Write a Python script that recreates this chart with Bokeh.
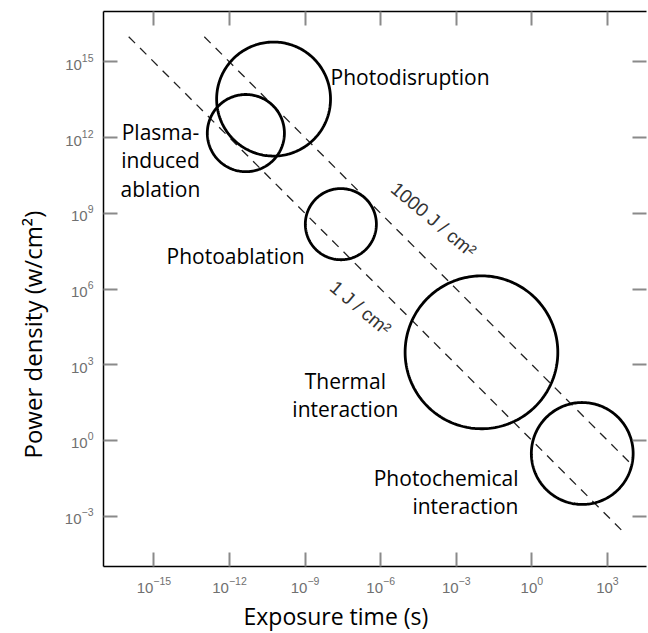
import numpy as np
from bokeh.plotting import figure
from bokeh.models import (LogAxis, FixedTicker, ColumnDataSource, CustomJSTickFormatter,
                          Title)
from bokeh.core.properties import value
from bokeh.embed import file_html
from bokeh.resources import INLINE

# ---- data (log10 units: exposure time in s, power density in W/cm^2) ----
regions = ["Photodisruption", "Plasma-induced ablation", "Photoablation",
           "Thermal interaction", "Photochemical interaction"]
center_log_time = [-10.25, -11.35, -7.58, -2.0, 2.0]
center_log_power = [13.53, 12.18, 8.57, 3.49, -0.52]
radius_decades = [2.26, 1.53, 1.41, 3.03, 2.02]

fluence = [1, 1000]                      # J/cm^2
fluence_labels = ["1 J / cm²", "1000 J / cm²"]
line_start_time = [1e-16, 1e-13]
line_end_time = [10 ** 3.7, 10 ** 3.85]

x_ticks = [1e-15, 1e-12, 1e-9, 1e-6, 1e-3, 1e0, 1e3]
y_ticks = [1e15, 1e12, 1e9, 1e6, 1e3, 1e0, 1e-3]

FONT = "Open Sans"

p = figure(width=648, height=633, x_axis_type="log", y_axis_type="log",
           x_range=(1e-17, 10 ** 4.55), y_range=(1e-5, 1e17),
           output_backend="svg", toolbar_location=None,
           min_border_left=103, min_border_right=2, min_border_top=11,
           min_border_bottom=67)
p.grid.visible = False
p.outline_line_color = None
p.background_fill_color = "white"
p.border_fill_color = "white"

def style_axis(ax, labels=True):
    ax.major_tick_in = 14
    ax.major_tick_out = 0
    ax.minor_tick_in = 0
    ax.minor_tick_out = 0
    ax.major_tick_line_color = "#8a8a8a"
    ax.major_tick_line_width = 2
    ax.axis_line_color = "black"
    ax.axis_line_width = 1.5
    if labels:
        ax.major_label_text_font = "Liberation Sans"
        ax.major_label_text_font_size = "15px"
        ax.major_label_text_color = "#707070"
        ax.major_label_standoff = 10
    else:
        ax.formatter = CustomJSTickFormatter(code="return ''")
        ax.major_label_standoff = 0

p.xaxis.ticker = FixedTicker(ticks=x_ticks, minor_ticks=[])
p.yaxis.ticker = FixedTicker(ticks=y_ticks, minor_ticks=[])
style_axis(p.xaxis[0])
style_axis(p.yaxis[0])

top = LogAxis(ticker=FixedTicker(ticks=x_ticks, minor_ticks=[]))
right = LogAxis(ticker=FixedTicker(ticks=y_ticks, minor_ticks=[]))
style_axis(top, labels=False)
style_axis(right, labels=False)
right.axis_line_color = None
p.add_layout(top, "above")
p.add_layout(right, "right")

# ---- axis titles ----
xt = Title(text="Exposure time (s)", align="left", offset=140, standoff=4,
           text_font=FONT, text_font_size="23px", text_font_style="normal",
           text_color="black")
p.add_layout(xt, "below")
yt = Title(text="Power density (w/cm²)", align="left", offset=108, standoff=25,
           text_font=FONT, text_font_size="24px", text_font_style="normal",
           text_color="black")
p.add_layout(yt, "left")

# ---- fluence lines ----
xs_l, ys_l = [], []
for f, t0, t1 in zip(fluence, line_start_time, line_end_time):
    xs_l.append([t0, t1])
    ys_l.append([f / t0, f / t1])
p.multi_line(xs_l, ys_l, line_color="#222222", line_width=1.3, line_dash="9 7")

# ---- interaction regions (circles in log-log space) ----
th = np.linspace(0, 2 * np.pi, 240)
xs_c, ys_c = [], []
for cx, cy, r in zip(center_log_time, center_log_power, radius_decades):
    xs_c.append(10 ** (cx + r * np.cos(th)))
    ys_c.append(10 ** (cy + r * np.sin(th)))
p.multi_line(xs_c, ys_c, line_color="black", line_width=2.8)

# ---- region labels ----
lab = ColumnDataSource(dict(
    x=[10 ** -7.99, 10 ** -14.74, 10 ** -14.74, 10 ** -14.74, 10 ** -9.02,
       10 ** -7.40, 10 ** -7.40, 10 ** -0.53, 10 ** -0.53],
    y=[10 ** 14.42, 10 ** 12.24, 10 ** 11.11, 10 ** 9.98, 10 ** 7.32,
       10 ** 2.36, 10 ** 1.25, 10 ** -1.49, 10 ** -2.60],
    text=["Photodisruption", "Plasma-", "induced", "ablation", "Photoablation",
          "Thermal", "interaction", "Photochemical", "interaction"],
    align=["left", "center", "center", "center", "right",
           "center", "center", "right", "right"],
))
p.text("x", "y", text="text", source=lab, text_align="align",
       text_baseline="middle", text_font=value(FONT), text_font_size="21px",
       text_color="black")

# ---- fluence labels ----
p.text(x=[10 ** -6.80, 10 ** -3.90], y=[10 ** 5.25, 10 ** 8.75], text=fluence_labels,
       angle=-0.70, text_align="center", text_baseline="middle",
       text_font=value("Liberation Sans"), text_font_size="19px",
       text_color="#333333")

open("out.html", "w").write(file_html(p, INLINE))
